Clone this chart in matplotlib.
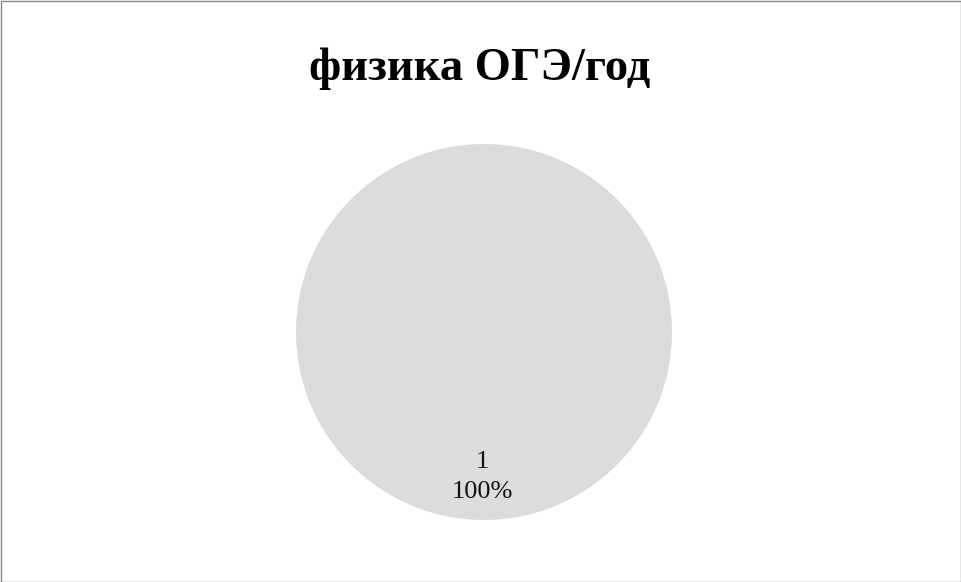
import matplotlib
matplotlib.use("Agg")
import matplotlib.pyplot as plt
from matplotlib.patches import Rectangle

categories = ["1"]
values = [1]
title = "физика ОГЭ/год"

plt.rcParams['font.family'] = ['Liberation Serif', 'DejaVu Serif']

fig = plt.figure(figsize=(9.62, 5.82), dpi=100)
fig.patches.append(Rectangle((0.5/962, 0.5/582), 1 - 1.5/962, 1 - 1.5/582,
                             transform=fig.transFigure, fill=False,
                             edgecolor='#888888', linewidth=1.0))

fig.text(480/962, 1 - 80/582, title, ha='center', va='baseline',
         fontsize=33.5, fontweight='bold', color='black')

ax = fig.add_axes([(484 - 188) / 962, (250 - 188) / 582, 376 / 962, 376 / 582])
def fmt(pct, it=iter(categories)):
    return f"{next(it)}\n{pct:.0f}%"
wedges, texts, autotexts = ax.pie(values, colors=['#dcdcdc'], startangle=90,
                                  counterclock=False, autopct=fmt, pctdistance=0.77,
                                  wedgeprops=dict(linewidth=0))
for t in autotexts:
    t.set_fontsize(19)
    t.set_color('#111111')
    t.set_linespacing(1.45)
    t.set_x(t.get_position()[0] - 0.01)
ax.set_xlim(-1, 1)
ax.set_ylim(-1, 1)
ax.set_aspect('equal')
ax.axis('off')

fig.savefig("out.png", dpi=100)
